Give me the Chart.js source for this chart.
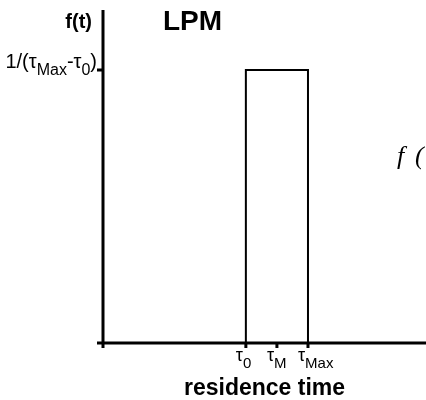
<!DOCTYPE html>
<html>
<head>
<meta charset="utf-8">
<script src="https://cdn.jsdelivr.net/npm/chart.js@4/dist/chart.umd.min.js"></script>
<style>
	html, body { margin: 0; padding: 0; background: #fff; }
	#wrap { width: 426px; height: 400px; }
</style>
</head>
<body>
<div id="wrap"><canvas id="lpm"></canvas></div>
<script>
// residence time values (arbitrary units) of the three marked ticks
var tauNames = [['τ', '0'], ['τ', 'M'], ['τ', 'Max']];
var tauValues = [4.6, 5.6, 6.6];
// box of the lumped parameter model: f(t) = 1/(tMax - t0) between t0 and tMax
var boxX = [4.6, 4.6, 6.6, 6.6];
var boxY = [0, 0.5, 0.5, 0];
var levelY = 0.5;
var xMax = 10.4;
var yMax = 0.61;

var sans = '"Liberation Sans", Arial, sans-serif';

// draws a run of text with some parts as subscripts, returns width
var drawParts = (c, parts, x, y, size, subSize, align) => {
	var w = 0;
	parts.forEach(p => {
		c.font = (p[1] ? subSize : size) + 'px ' + sans;
		w += c.measureText(p[0]).width;
	});
	var cx = align === 'right' ? x - w : x;
	c.textAlign = 'left';
	c.textBaseline = 'alphabetic';
	parts.forEach(p => {
		c.font = (p[1] ? subSize : size) + 'px ' + sans;
		c.fillText(p[0], cx, p[1] ? y + 7 : y);
		cx += c.measureText(p[0]).width;
	});
	return w;
};

var axesPlugin = {
	id: 'axes',
	afterDatasetsDraw(chart) {
		var c = chart.ctx;
		var xs = chart.scales.x, ys = chart.scales.y;
		var x0 = xs.getPixelForValue(0);
		var y0 = ys.getPixelForValue(0);
		c.save();
		c.strokeStyle = '#000';
		c.fillStyle = '#000';
		c.lineWidth = 3;
		c.beginPath();
		// y axis
		c.moveTo(x0, ys.getPixelForValue(yMax));
		c.lineTo(x0, y0 + 5);
		// x axis
		c.moveTo(x0 - 6, y0);
		c.lineTo(xs.getPixelForValue(xMax), y0);
		// y tick
		var ly = ys.getPixelForValue(levelY);
		c.moveTo(x0 - 6, ly);
		c.lineTo(x0, ly);
		// x ticks
		tauValues.forEach(v => {
			var px = xs.getPixelForValue(v);
			c.moveTo(px, y0);
			c.lineTo(px, y0 + 5);
		});
		c.stroke();

		// tick labels
		tauValues.forEach((v, i) => {
			var px = xs.getPixelForValue(v);
			drawParts(c, [[tauNames[i][0], false], [tauNames[i][1], true]], px - 10, y0 + 18, 18, 15, 'left');
		});
		drawParts(c, [['1/(τ', false], ['Max', true], ['-τ', false], ['0', true], [')', false]], x0 - 6, ly - 2, 20, 16, 'right');

		// titles
		c.font = 'bold 20px ' + sans;
		c.textAlign = 'right';
		c.fillText('f(t)', 92, 28);
		c.font = 'bold 28px ' + sans;
		c.textAlign = 'left';
		c.fillText('LPM', 163, 30);
		c.font = 'bold 23px ' + sans;
		c.textAlign = 'center';
		c.fillText('residence time', (chart.chartArea.left + chart.chartArea.right) / 2, 395);
		c.font = 'italic 26px "Liberation Serif", "Times New Roman", serif';
		c.textAlign = 'left';
		c.fillText('f', 397, 164);
		c.fillText('(', 415, 164);
		c.restore();
	}
};

new Chart(document.getElementById('lpm'), {
	type: 'scatter',
	data: {
		datasets: [{
			data: boxX.map((x, i) => ({ x: x, y: boxY[i] })),
			showLine: true,
			borderColor: '#000',
			borderWidth: 2,
			pointRadius: 0,
			tension: 0,
			fill: false
		}]
	},
	options: {
		responsive: true,
		maintainAspectRatio: false,
		animation: false,
		events: [],
		layout: { padding: { left: 103, right: 0, top: 10, bottom: 57 } },
		scales: {
			x: { type: 'linear', min: 0, max: xMax, display: false },
			y: { type: 'linear', min: 0, max: yMax, display: false }
		},
		plugins: {
			legend: { display: false },
			tooltip: { enabled: false }
		}
	},
	plugins: [axesPlugin]
});
</script>
</body>
</html>
